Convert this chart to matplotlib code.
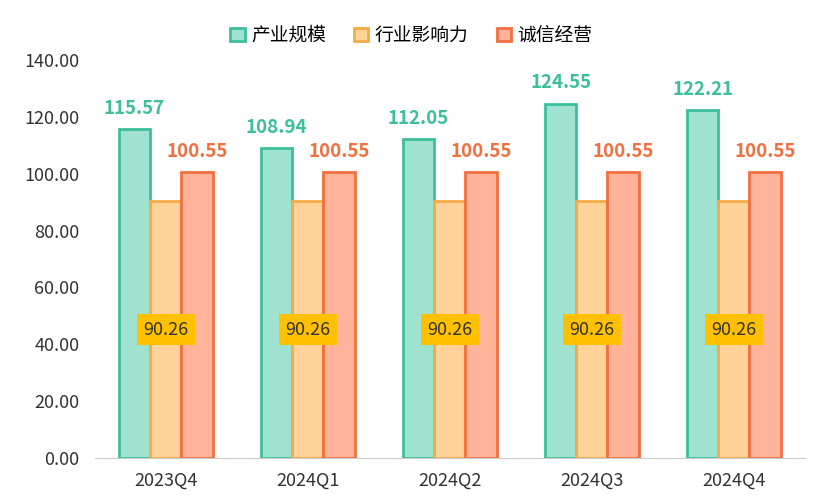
import matplotlib
matplotlib.use('Agg')
import matplotlib.pyplot as plt
from matplotlib.ticker import FormatStrFormatter
import numpy as np

plt.rcParams['font.family'] = ['Noto Sans CJK SC', 'DejaVu Sans']

categories = ['2023Q4', '2024Q1', '2024Q2', '2024Q3', '2024Q4']
scale = [115.57, 108.94, 112.05, 124.55, 122.21]
influence = [90.26, 90.26, 90.26, 90.26, 90.26]
integrity = [100.55, 100.55, 100.55, 100.55, 100.55]
series_names = ['产业规模', '行业影响力', '诚信经营']

faces = ['#9FE2D0', '#FFD29A', '#FFB39B']
edges = ['#3DBF9C', '#F6AA45', '#F2703F']

fig = plt.figure(figsize=(8.23, 4.99), dpi=100)
ax = fig.add_axes([0.115, 0.082, 0.863, 0.798])

x = np.arange(len(categories))
w = 0.22
offsets = [-w, 0, w]
all_vals = [scale, influence, integrity]

for vals, off, fc, ec, name in zip(all_vals, offsets, faces, edges, series_names):
    ax.bar(x + off, vals, w, color=fc, edgecolor=ec, linewidth=2, label=name)

# data labels
for xi, v in zip(x, scale):
    ax.text(xi - w, v + 4, f'{v:.2f}', ha='center', va='bottom', color=edges[0],
            fontsize=13.5, fontweight='bold')
for xi, v in zip(x, integrity):
    ax.text(xi + w, v + 4, f'{v:.2f}', ha='center', va='bottom', color=edges[2],
            fontsize=13.5, fontweight='bold')
for xi, v in zip(x, influence):
    ax.text(xi, v / 2, f'{v:.2f}', ha='center', va='center', color='#333333',
            fontsize=13, bbox=dict(boxstyle='square,pad=0.35', fc='#FFC000', ec='none'))

ax.set_xlim(-0.5, len(categories) - 0.5)
ax.set_ylim(0, 140)
ax.set_yticks(np.arange(0, 141, 20))
ax.yaxis.set_major_formatter(FormatStrFormatter('%.2f'))
ax.set_xticks(x)
ax.set_xticklabels(categories)
ax.tick_params(axis='both', length=0, labelsize=13, colors='#333333')
ax.tick_params(axis='x', pad=10)
ax.tick_params(axis='y', pad=11)
for s in ['top', 'right', 'left']:
    ax.spines[s].set_visible(False)
ax.spines['bottom'].set_color('#CCCCCC')

ax.legend(loc='upper center', bbox_to_anchor=(0.446, 1.13), ncol=3, frameon=False,
          fontsize=13.5, handlelength=0.75, handleheight=0.75, columnspacing=1.5,
          handletextpad=0.35)

fig.savefig('out.png', dpi=100)
